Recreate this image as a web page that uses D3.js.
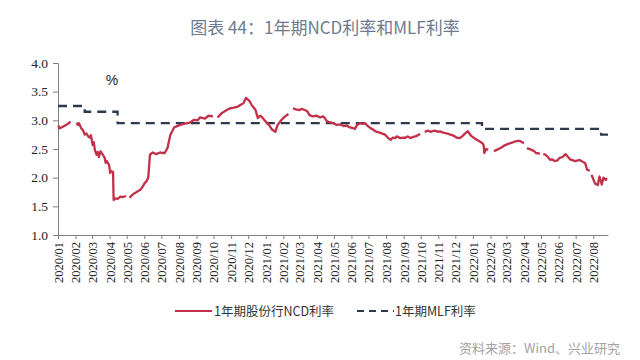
<!DOCTYPE html>
<html><head><meta charset="utf-8">
<script src="https://cdn.jsdelivr.net/npm/d3@7"></script>
<style>
html,body{margin:0;padding:0;background:#fff;}
svg{display:block;}
</style></head>
<body>
<svg id="chart" width="640" height="360"></svg>
<script>
// ---- data ----
const ncdDates = [
"2020-01-02","2020-01-03","2020-01-08","2020-01-15","2020-01-20","2020-01-23",null,
"2020-02-03","2020-02-05","2020-02-07","2020-02-11","2020-02-14","2020-02-17","2020-02-20","2020-02-24","2020-02-26","2020-02-28",
"2020-03-02","2020-03-04","2020-03-06","2020-03-09","2020-03-11","2020-03-13","2020-03-16","2020-03-18","2020-03-20","2020-03-23","2020-03-25","2020-03-27","2020-03-31",
"2020-04-02","2020-04-03","2020-04-07","2020-04-08","2020-04-10","2020-04-15","2020-04-20","2020-04-24","2020-04-30",null,
"2020-05-06","2020-05-11","2020-05-15","2020-05-20","2020-05-25","2020-05-29","2020-06-02","2020-06-05","2020-06-08","2020-06-11","2020-06-16","2020-06-22","2020-06-29","2020-07-03","2020-07-07","2020-07-12","2020-07-17","2020-07-24","2020-07-29",
"2020-08-03","2020-08-10","2020-08-20","2020-08-28","2020-09-03","2020-09-07","2020-09-16","2020-09-22","2020-09-30",null,
"2020-10-08","2020-10-16","2020-10-23","2020-10-30","2020-11-06","2020-11-13","2020-11-18","2020-11-23","2020-11-27","2020-12-01","2020-12-04","2020-12-07","2020-12-11","2020-12-14","2020-12-18","2020-12-22","2020-12-25","2020-12-30",
"2021-01-04","2021-01-08","2021-01-12","2021-01-18","2021-01-22","2021-01-26","2021-01-29","2021-02-03","2021-02-10",null,
"2021-02-18","2021-02-23","2021-03-02","2021-03-05","2021-03-11","2021-03-15","2021-03-19","2021-03-25","2021-04-01","2021-04-07","2021-04-12","2021-04-15","2021-04-19","2021-04-23","2021-04-30",
"2021-05-06","2021-05-12","2021-05-18","2021-05-24","2021-05-28","2021-06-02","2021-06-07","2021-06-11","2021-06-16","2021-06-21","2021-06-25","2021-06-30","2021-07-05","2021-07-09","2021-07-13","2021-07-16","2021-07-22","2021-07-30",
"2021-08-04","2021-08-09","2021-08-13","2021-08-17","2021-08-20","2021-08-26","2021-09-01","2021-09-03","2021-09-08","2021-09-13","2021-09-17","2021-09-22","2021-09-30",null,
"2021-10-08","2021-10-14","2021-10-18","2021-10-22","2021-10-26","2021-11-01","2021-11-04","2021-11-08","2021-11-12","2021-11-17","2021-11-22","2021-11-26","2021-11-30","2021-12-03","2021-12-09","2021-12-13","2021-12-17","2021-12-23","2021-12-27","2021-12-30",
"2022-01-05","2022-01-10","2022-01-13","2022-01-18","2022-01-20","2022-01-21","2022-01-24","2022-01-28",null,
"2022-02-07","2022-02-11","2022-02-17","2022-02-21","2022-02-25","2022-03-02","2022-03-07","2022-03-11","2022-03-16","2022-03-21","2022-03-25","2022-04-01",null,
"2022-04-06","2022-04-11","2022-04-15","2022-04-19","2022-04-22","2022-04-29",null,
"2022-05-05","2022-05-09","2022-05-13","2022-05-17","2022-05-20","2022-05-25","2022-05-30","2022-06-02","2022-06-08","2022-06-13","2022-06-16","2022-06-21","2022-06-24","2022-06-30",
"2022-07-05","2022-07-08","2022-07-13","2022-07-18","2022-07-21","2022-07-26",null,
"2022-07-29","2022-08-04","2022-08-09","2022-08-12","2022-08-16","2022-08-19","2022-08-23","2022-08-25"
];
const ncdValues = [
2.91,2.86,2.88,2.92,2.95,2.98,null,
2.96,2.92,2.95,2.86,2.83,2.75,2.77,2.71,2.70,2.74,
2.57,2.62,2.48,2.40,2.45,2.36,2.46,2.43,2.40,2.35,2.26,2.29,2.22,
2.08,2.12,2.10,1.61,1.64,1.63,1.67,1.66,1.68,null,
1.65,1.70,1.73,1.76,1.79,1.84,1.91,1.94,2.00,2.40,2.44,2.41,2.44,2.43,2.43,2.52,2.75,2.88,2.90,
2.92,2.94,2.96,3.01,3.00,3.05,3.03,3.08,3.07,null,
3.05,3.13,3.17,3.21,3.22,3.24,3.27,3.30,3.39,3.36,3.33,3.27,3.22,3.18,3.04,3.08,3.06,3.00,
2.95,2.90,2.84,2.80,2.92,2.97,3.01,3.06,3.11,null,
3.21,3.19,3.18,3.20,3.18,3.16,3.09,3.07,3.08,3.05,3.07,3.04,2.98,2.97,2.95,
2.92,2.93,2.90,2.91,2.88,2.87,2.85,2.92,2.95,2.94,2.95,2.90,2.86,2.84,2.81,2.80,2.78,2.75,
2.70,2.66,2.70,2.69,2.72,2.69,2.70,2.69,2.72,2.69,2.71,2.72,2.76,null,
2.80,2.82,2.80,2.81,2.82,2.80,2.81,2.79,2.78,2.77,2.75,2.74,2.72,2.70,2.69,2.72,2.76,2.81,2.75,2.72,
2.68,2.65,2.63,2.60,2.56,2.43,2.50,2.49,null,
2.46,2.48,2.51,2.53,2.56,2.58,2.60,2.61,2.63,2.64,2.64,2.60,null,
2.51,2.50,2.48,2.46,2.43,2.42,null,
2.41,2.40,2.36,2.31,2.32,2.29,2.30,2.34,2.36,2.41,2.38,2.32,2.31,2.29,
2.30,2.31,2.28,2.25,2.14,2.12,null,
2.05,1.90,1.87,2.02,1.88,2.00,1.96,1.99
];
const mlfDates = ["2020-01-01","2020-02-17","2020-04-15","2022-01-17","2022-08-15","2022-08-27"];
const mlfValues = [3.25,3.15,2.95,2.85,2.75,2.75];
const yTicks = [1.0,1.5,2.0,2.5,3.0,3.5,4.0];
const seriesNames = ["1年期股份行NCD利率","1年期MLF利率"];
const titleText = "图表 44：1年期NCD利率和MLF利率";
const sourceText = "资料来源：Wind、兴业研究";
const unitText = "%";

// ---- chart ----
(function () {
const parse = d3.timeParse("%Y-%m-%d");
const svg = d3.select("#chart");
const L = 58, R = 608, T = 63, B = 235;
const SERIF = "'Times New Roman', 'Liberation Serif', 'DejaVu Serif', serif";

const x = d3.scaleTime().domain([parse("2020-01-01"), parse("2022-08-27")]).range([L, R]);
const y = d3.scaleLinear().domain([1, 4]).range([B, T]);

const ncd = ncdDates.map((d, i) => ({d: d ? parse(d) : null, v: ncdValues[i]}));
const mlf = mlfDates.map((d, i) => ({d: parse(d), v: mlfValues[i]}));

// title
svg.append("text").attr("x", 325).attr("y", 34).attr("text-anchor", "middle")
  .style("font-family", "'Noto Sans CJK SC'").style("font-size", "17px").attr("fill", "#6e7b8e")
  .text(titleText);

// y axis
const yAxis = svg.append("g").attr("transform", `translate(${L},0)`)
  .call(d3.axisLeft(y).tickValues(yTicks).tickFormat(d3.format(".1f")).tickSize(5).tickPadding(5));
yAxis.attr("font-family", null);
yAxis.select(".domain").attr("stroke", "#7f7f7f");
yAxis.selectAll(".tick line").attr("stroke", "#7f7f7f");
yAxis.selectAll("text").style("font-family", SERIF).style("font-size", "13.5px").attr("fill", "#222");

// x axis
const months = d3.timeMonth.range(parse("2020-01-01"), parse("2022-08-02"));
const xAxis = svg.append("g").attr("transform", `translate(0,${B})`)
  .call(d3.axisBottom(x).tickValues(months).tickFormat(d3.timeFormat("%Y/%m")).tickSize(4).tickSizeOuter(0));
xAxis.attr("font-family", null);
xAxis.select(".domain").attr("stroke", "#7f7f7f");
xAxis.selectAll(".tick line").attr("stroke", "#7f7f7f");
xAxis.selectAll("text")
  .style("font-family", SERIF).style("font-size", "12.5px").attr("fill", "#222")
  .attr("text-anchor", "end").attr("transform", "rotate(-90)")
  .attr("x", -7).attr("y", 0).attr("dy", "0.35em");

// unit label
svg.append("text").attr("x", 112).attr("y", 85).attr("text-anchor", "middle")
  .style("font-family", "'Liberation Sans', Arial, sans-serif").style("font-size", "14px").attr("fill", "#222").text(unitText);

// MLF step line
svg.append("path").datum(mlf)
  .attr("fill", "none").attr("stroke", "#2d3a4d").attr("stroke-width", 2.3)
  .attr("stroke-dasharray", "9,6")
  .attr("d", d3.line().x(p => x(p.d)).y(p => y(p.v)).curve(d3.curveStepAfter));

// NCD line
svg.append("path").datum(ncd)
  .attr("fill", "none").attr("stroke", "#c2304a").attr("stroke-width", 2.3)
  .attr("stroke-linejoin", "round")
  .attr("d", d3.line().defined(p => p.d !== null && p.v !== null).x(p => x(p.d)).y(p => y(p.v)));

// legend
const lg = svg.append("g");
lg.append("line").attr("x1", 175).attr("x2", 212).attr("y1", 311).attr("y2", 311)
  .attr("stroke", "#c2304a").attr("stroke-width", 2.2);
lg.append("text").attr("x", 214).attr("y", 315.5)
  .style("font-family", "'Noto Sans CJK SC'").style("font-size", "12.5px").attr("fill", "#333").text(seriesNames[0]);
lg.append("line").attr("x1", 357).attr("x2", 394).attr("y1", 311).attr("y2", 311)
  .attr("stroke", "#2d3a4d").attr("stroke-width", 2.2).attr("stroke-dasharray", "7,5");
lg.append("text").attr("x", 395).attr("y", 315.5)
  .style("font-family", "'Noto Sans CJK SC'").style("font-size", "12.5px").attr("fill", "#333").text(seriesNames[1]);

// source
svg.append("text").attr("x", 620).attr("y", 353).attr("text-anchor", "end")
  .style("font-family", "'Noto Sans CJK SC'").style("font-size", "13px").attr("fill", "#a3a3a3").text(sourceText);
})();
</script>
</body></html>
